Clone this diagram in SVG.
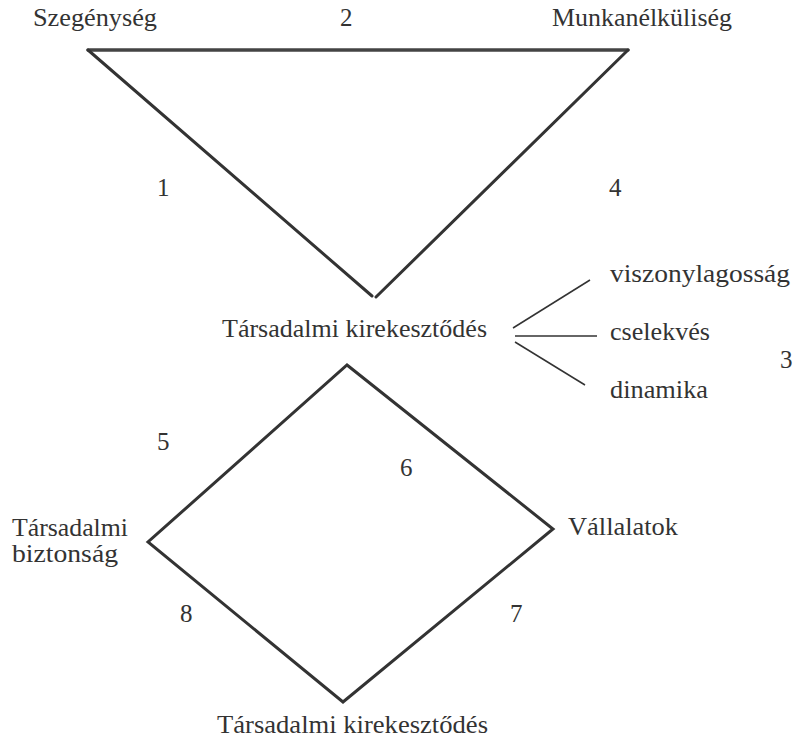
<svg xmlns="http://www.w3.org/2000/svg" width="795" height="739" viewBox="0 0 795 739">
<style>
text{font-family:"Liberation Serif","Times New Roman",serif;font-size:25px;fill:#333}
.edge{stroke:#333;stroke-width:3;fill:none;stroke-linecap:round}
.top{stroke:#444;stroke-width:3.5}
.br{stroke:#333;stroke-width:1.5;fill:none}
</style>
<rect width="795" height="739" fill="#fff"/>
<g id="connectors">
<path class="edge top" d="M88,50 L628,50"/>
<path class="edge" d="M88,50 L372,296"/>
<path class="edge" d="M628,50 L376,297"/>
<path class="edge" d="M347,365 L553,529 L343,702 L148,542 Z"/>
<path class="br" d="M513,328 L590,280"/>
<path class="br" d="M515,336 L597,336"/>
<path class="br" d="M515,342 L585,385"/>
</g>
<g id="n-szegenyseg"><text x="33" y="26" textLength="124" lengthAdjust="spacingAndGlyphs">Szegénység</text></g>
<g id="n-munkanelkuliseg"><text x="552" y="26" textLength="180" lengthAdjust="spacingAndGlyphs">Munkanélküliség</text></g>
<g id="n-kirek1"><text x="222" y="337" textLength="265" lengthAdjust="spacingAndGlyphs">Társadalmi kirekesztődés</text></g>
<g id="n-viszony"><text x="610" y="282" textLength="180" lengthAdjust="spacingAndGlyphs">viszonylagosság</text></g>
<g id="n-cselekves"><text x="610" y="340" textLength="100" lengthAdjust="spacingAndGlyphs">cselekvés</text></g>
<g id="n-dinamika"><text x="610" y="398" textLength="98" lengthAdjust="spacingAndGlyphs">dinamika</text></g>
<g id="n-biztonsag"><text x="12" y="536" textLength="116" lengthAdjust="spacingAndGlyphs">Társadalmi</text><text x="12" y="562" textLength="106" lengthAdjust="spacingAndGlyphs">biztonság</text></g>
<g id="n-vallalatok"><text x="568" y="535" textLength="110" lengthAdjust="spacingAndGlyphs">Vállalatok</text></g>
<g id="n-kirek2"><text x="217" y="733" textLength="271" lengthAdjust="spacingAndGlyphs">Társadalmi kirekesztődés</text></g>
<g id="labels">
<text x="340" y="26">2</text>
<text x="157" y="196">1</text>
<text x="609" y="196">4</text>
<text x="780" y="368">3</text>
<text x="157" y="450">5</text>
<text x="400" y="476">6</text>
<text x="180" y="622">8</text>
<text x="510" y="622">7</text>
</g>
</svg>
